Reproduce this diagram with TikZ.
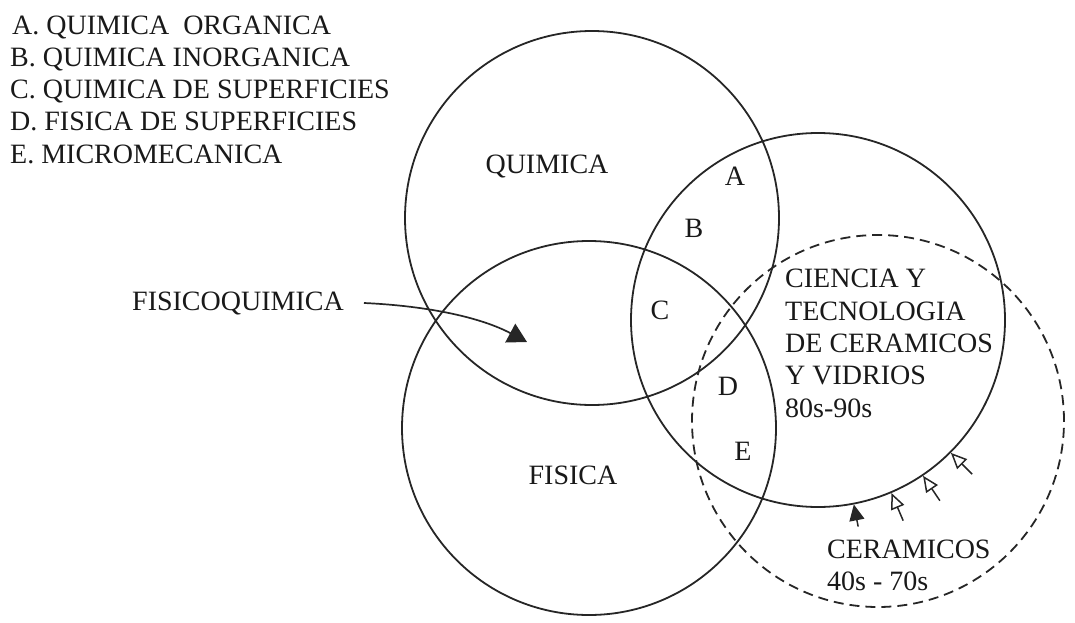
\documentclass[tikz,border=0pt]{standalone}
\usepackage{fontspec}
\setmainfont{Liberation Serif}
\usetikzlibrary{arrows.meta,calc}
\begin{document}
\begin{tikzpicture}[x=1pt,y=-1pt,
  lbl/.style={font=\fontsize{28}{32}\selectfont, text=black!90, inner sep=0pt},
  ring/.style={circle, draw=black!85, line width=1.8pt, minimum size=374pt, inner sep=0pt},
  dring/.style={ring, dash pattern=on 10pt off 6pt, minimum size=372pt},
  cer/.style={draw=black!85, line width=1.5pt, -{Triangle[open,length=16pt,width=14pt]}},
  cerf/.style={draw=black!85, line width=1.5pt, -{Triangle[length=16pt,width=15pt]}},
  fqarrow/.style={draw=black!85, line width=1.7pt, -{Triangle[length=19pt,width=21pt]}},
]
\useasboundingbox (0,0) rectangle (1075,623);
% circles
\node[ring] (qui) at (592,218) {};
\node[ring] (fis) at (589,428) {};
\node[ring] (cien) at (818,320) {};
\node[dring] (cer) at (878,421) {};
% legend
\node[lbl, anchor=base west] (la) at (12,35) {A. QUIMICA~ ORGANICA};
\node[lbl, anchor=base west] (lb) at (10,67) {B. QUIMICA INORGANICA};
\node[lbl, anchor=base west] (lc) at (10,99) {C. QUIMICA DE SUPERFICIES};
\node[lbl, anchor=base west] (ld) at (10,131) {D. FISICA DE SUPERFICIES};
\node[lbl, anchor=base west] (le) at (10,163) {E. MICROMECANICA};
% circle labels
\node[lbl, anchor=base] (tq) at (547,173) {QUIMICA};
\node[lbl, anchor=base] (tf) at (573,484) {FISICA};
\node[lbl, anchor=base] (ta) at (735,185) {A};
\node[lbl, anchor=base] (tb) at (694,237) {B};
\node[lbl, anchor=base] (tc) at (660,319) {C};
\node[lbl, anchor=base] (td) at (728,395) {D};
\node[lbl, anchor=base] (te) at (743,460) {E};
\node[lbl, anchor=base west] (c1) at (785,287) {CIENCIA Y};
\node[lbl, anchor=base west] (c2) at (785,320) {TECNOLOGIA};
\node[lbl, anchor=base west] (c3) at (785,352) {DE CERAMICOS};
\node[lbl, anchor=base west] (c4) at (785,384) {Y VIDRIOS};
\node[lbl, anchor=base west] (c5) at (785,417) {80s-90s};
\node[lbl, anchor=base west] (k1) at (827,558) {CERAMICOS};
\node[lbl, anchor=base west] (k2) at (827,590) {40s - 70s};
% fisicoquimica
\node[lbl, anchor=base west] (fq) at (132,310) {FISICOQUIMICA};
\coordinate (fqs) at ($(fq.east)+(20,0)$);
\coordinate (fqtip) at (527,342);
\draw[fqarrow] (fqs) .. controls (430,306) and (482,318) .. (fqtip);
% ceramic arrows
\coordinate (t1) at ($(cien.center)!1.12!(cien.-79)$);
\coordinate (t2) at ($(cien.center)!1.16!(cien.-67)$);
\coordinate (t3) at ($(cien.center)!1.16!(cien.-56)$);
\coordinate (t4) at ($(cien.center)!1.16!(cien.-45)$);
\draw[cerf] (t1) -- (cien.-79);
\draw[cer] (t2) -- (cien.-67);
\draw[cer] (t3) -- (cien.-56);
\draw[cer] (t4) -- (cien.-45);
\end{tikzpicture}
\end{document}
